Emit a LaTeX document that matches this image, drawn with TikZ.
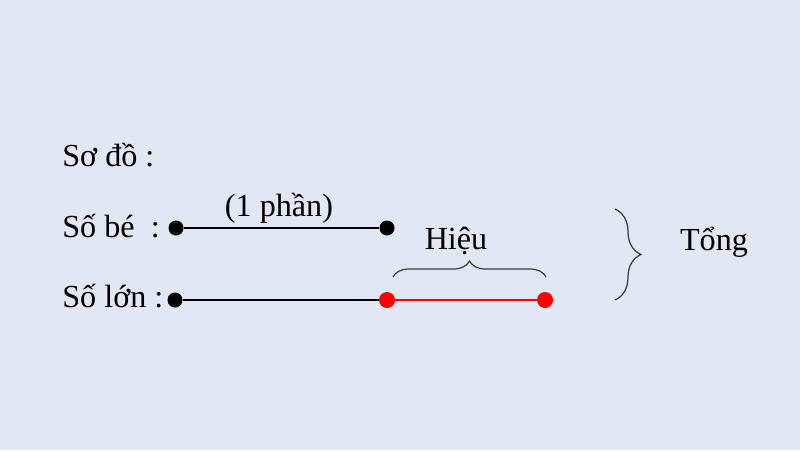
\documentclass[tikz,border=0pt]{standalone}
\usepackage{fontspec}
\setmainfont{Liberation Serif}
\usepackage{xcolor}
\usetikzlibrary{decorations.pathreplacing}
\definecolor{bgblue}{RGB}{225,232,244}
\definecolor{bracegray}{RGB}{60,60,60}

\begin{document}
\begin{tikzpicture}[x=0.02cm,y=-0.02cm,
    dot/.style={circle,fill=black,inner sep=0pt,minimum size=0.3cm},
    reddot/.style={circle,fill=red,inner sep=0pt,minimum size=0.32cm},
    rowtext/.style={anchor=base west,inner sep=0pt,font=\fontsize{18.3}{21}\selectfont},
    txt/.style={anchor=base,inner sep=0pt,font=\fontsize{18.3}{21}\selectfont},
    curly/.style={decorate,draw=bracegray,line width=0.7pt}]
                \fill[bgblue](0,0) rectangle (800,450);
                \useasboundingbox (0,0) rectangle (800,450);
                \node[rowtext] (sodo) at (62,166) {Sơ đồ :};
                \node[rowtext] (sobe) at (62,237) {Số bé\ \ :};
                \node[rowtext] (solon) at (62,307) {Số lớn :};
                \node[dot] (be1) at (176,228) {};
                \node[dot] (be2) at (387,228) {};
                \draw[black, line width=1.1pt](be1) -- (be2);
                \node[txt] (phan) at (279,216) {(1 phần)};
                \node[dot] (lon1) at (175,300) {};
                \node[reddot] (lon2) at (387,300) {};
                \node[reddot] (lon3) at (545,300) {};
                \draw[black, line width=1.1pt](lon1) -- (lon2);
                \draw[red, line width=0.8pt](lon2) -- (lon3);
                \coordinate (hieuL) at (393,277);
                \coordinate (hieuR) at (546,277);
                \draw[curly, decoration={brace,amplitude=0.32cm}](hieuL) -- (hieuR);
                \node[txt] (hieu) at (456,249) {Hiệu};
                \coordinate (tongT) at (615,209);
                \coordinate (tongB) at (615,300);
                \draw[curly, decoration={brace,amplitude=0.52cm}](tongT) -- (tongB);
                \node[txt] (tong) at (714,250) {Tổng};
            \end{tikzpicture}
\end{document}
